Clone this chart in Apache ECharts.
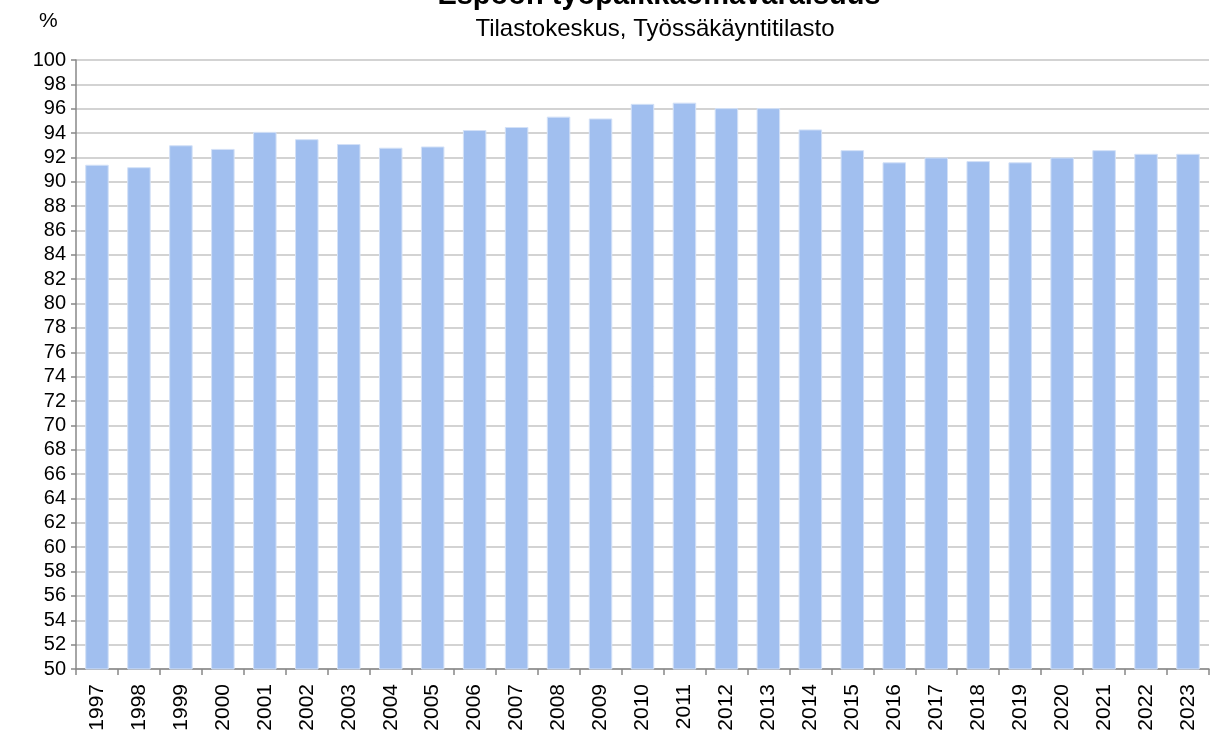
<!DOCTYPE html>
<html>
<head>
<meta charset="utf-8">
<script src="https://cdn.jsdelivr.net/npm/echarts@6/dist/echarts.min.js"></script>
<style>
html, body { margin: 0; padding: 0; background: #fff; }
#main { width: 1217px; height: 738px; }
</style>
</head>
<body>
<div id="main"></div>
<script>
// vuodet ja omavaraisuus (%)
var years = ['1997', '1998', '1999', '2000', '2001', '2002', '2003', '2004', '2005',
    '2006', '2007', '2008', '2009', '2010', '2011', '2012', '2013', '2014', '2015',
    '2016', '2017', '2018', '2019', '2020', '2021', '2022', '2023'];
var values = [91.4, 91.2, 93.0, 92.7, 94.1, 93.5, 93.1, 92.8, 92.9,
    94.25, 94.5, 95.35, 95.2, 96.4, 96.5, 96.05, 96.05, 94.3, 92.6,
    91.6, 92.0, 91.7, 91.6, 92.0, 92.6, 92.3, 92.3];
var yMin = 50;
var yMax = 100;
var yStep = 2;

var myChart = echarts.init(document.getElementById('main'));
var option = {
    backgroundColor: '#fff',
    animation: false,
    title: [{
        text: 'Espoon työpaikkaomavaraisuus',
        left: 654,
        textAlign: 'center',
        top: -24,
        textStyle: {
            fontFamily: 'Liberation Sans',
            fontWeight: 'bold',
            fontSize: 29,
            color: '#000'
        }
    }, {
        text: 'Tilastokeskus, Työssäkäyntitilasto',
        left: 650,
        textAlign: 'center',
        top: 12,
        textStyle: {
            fontFamily: 'Liberation Sans',
            fontWeight: 'normal',
            fontSize: 24,
            color: '#000'
        }
    }, {
        text: '%',
        left: 34,
        top: 6,
        textStyle: {
            fontFamily: 'Liberation Sans',
            fontWeight: 'normal',
            fontSize: 21,
            color: '#000'
        }
    }],
    grid: {
        left: 76,
        right: 8,
        top: 60,
        bottom: 69
    },
    xAxis: {
        type: 'category',
        data: years,
        boundaryGap: true,
        axisLine: {
            show: true,
            lineStyle: { color: '#888', width: 1.5 }
        },
        axisTick: {
            show: true,
            alignWithLabel: false,
            length: 6,
            lineStyle: { color: '#888', width: 1.5 }
        },
        axisLabel: {
            rotate: 90,
            margin: 15,
            fontFamily: 'Liberation Sans',
            fontSize: 21,
            color: '#000'
        },
        splitLine: { show: false }
    },
    yAxis: {
        type: 'value',
        min: yMin,
        max: yMax,
        interval: yStep,
        axisLine: {
            show: true,
            lineStyle: { color: '#888', width: 1.5 }
        },
        axisTick: {
            show: true,
            length: 5,
            lineStyle: { color: '#888', width: 1.5 }
        },
        axisLabel: {
            margin: 10,
            fontFamily: 'Liberation Sans',
            fontSize: 20,
            color: '#000'
        },
        splitLine: {
            show: true,
            lineStyle: { color: '#c4c4c4', width: 1.5 }
        }
    },
    series: [{
        name: 'Omavaraisuus',
        type: 'bar',
        data: values,
        barCategoryGap: '44%',
        itemStyle: {
            color: '#a1bfef',
            borderColor: '#d3e1f7',
            borderWidth: 1
        }
    }]
};
myChart.setOption(option);
</script>
</body>
</html>
